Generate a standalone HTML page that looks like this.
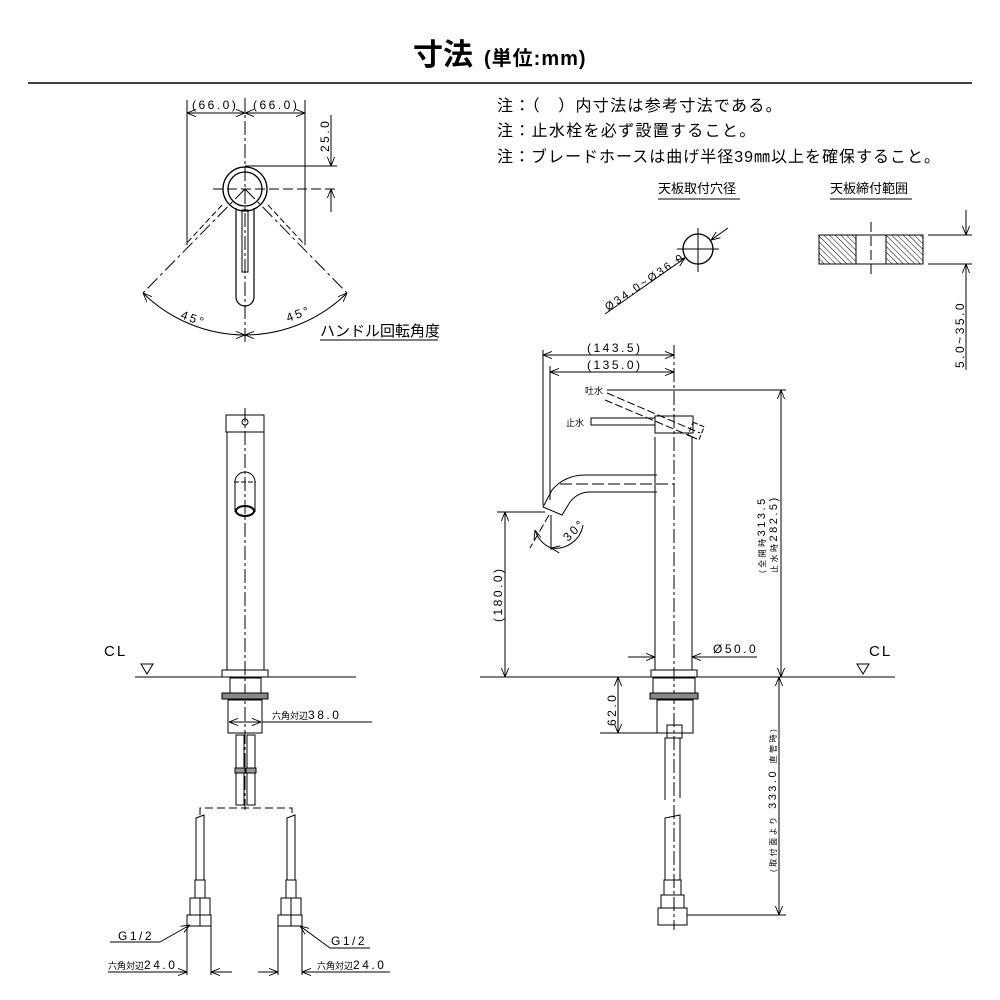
<!DOCTYPE html>
<html><head><meta charset="utf-8"><style>
html,body{margin:0;padding:0;background:#fff;}
svg{display:block;}
text{font-family:"Liberation Sans","Noto Sans CJK JP",sans-serif;fill:#000;}
.d{font-size:12px;letter-spacing:2.5px;}
.s{font-size:9px;letter-spacing:0;}
.n{font-size:16px;letter-spacing:1.3px;}
</style></head><body>
<svg width="1000" height="1000" viewBox="0 0 1000 1000" xmlns="http://www.w3.org/2000/svg">
<defs>
<marker id="a" viewBox="0 0 10 10" refX="10" refY="5" markerWidth="9" markerHeight="9" orient="auto-start-reverse" markerUnits="userSpaceOnUse"><path d="M0,1 L10,5 L0,9" fill="none" stroke="#000" stroke-width="1"/></marker>
<pattern id="h" width="4" height="4" patternUnits="userSpaceOnUse" patternTransform="rotate(-45)"><line x1="0" y1="0" x2="0" y2="4" stroke="#000" stroke-width="1"/></pattern>
</defs>
<g stroke="#000" fill="none" stroke-width="1">
<line x1="28" y1="83" x2="972" y2="83" stroke-width="1.5"/>
<!-- TOP VIEW -->
<line x1="245" y1="98" x2="245" y2="345" stroke-dasharray="14,3,3,3"/>
<line x1="187" y1="100" x2="187" y2="245"/><line x1="305" y1="100" x2="305" y2="245"/>
<line x1="187" y1="113" x2="245" y2="113" marker-start="url(#a)" marker-end="url(#a)"/>
<line x1="245" y1="113" x2="305" y2="113" marker-start="url(#a)" marker-end="url(#a)"/>
<line x1="213" y1="189" x2="337" y2="189" stroke-dasharray="10,4"/>
<line x1="245" y1="166" x2="337" y2="166"/>
<line x1="331" y1="115" x2="331" y2="166" marker-end="url(#a)"/>
<line x1="331" y1="189" x2="331" y2="212" marker-start="url(#a)"/>
<circle cx="245" cy="189" r="22" stroke-width="1.3"/><circle cx="245" cy="189" r="17" stroke-width="1.3"/>
<path d="M236,208 L236,297 A9,9 0 0 0 254,297 L254,208" stroke-width="1.2"/>
<rect x="242" y="210" width="6" height="62"/>
<line x1="245" y1="189" x2="143" y2="293" stroke-dasharray="14,4,3,4"/>
<line x1="245" y1="189" x2="347" y2="293" stroke-dasharray="14,4,3,4"/>
<line x1="222" y1="205" x2="185" y2="245" stroke-dasharray="6,3"/>
<line x1="268" y1="205" x2="305" y2="245" stroke-dasharray="6,3"/>
<path d="M143,293 A146,146 0 0 0 245,335" marker-start="url(#a)" marker-end="url(#a)"/>
<path d="M245,335 A146,146 0 0 0 347,293" marker-start="url(#a)" marker-end="url(#a)"/>
<line x1="320" y1="340" x2="438" y2="340"/>
<line x1="658" y1="199" x2="740" y2="199" stroke-width="1.5" stroke="#555"/>
<line x1="830" y1="199" x2="912" y2="199" stroke-width="1.5" stroke="#555"/>
<circle cx="698" cy="249" r="15" stroke-width="1.3"/>
<line x1="677" y1="249" x2="719" y2="249"/><line x1="698" y1="228" x2="698" y2="272"/>
<line x1="605" y1="314" x2="685" y2="258" marker-end="url(#a)"/>
<line x1="728" y1="228" x2="711" y2="240" marker-end="url(#a)"/>
<rect x="819" y="235" width="37" height="29" fill="url(#h)"/>
<rect x="886" y="235" width="37" height="29" fill="url(#h)"/>
<line x1="819" y1="235" x2="923" y2="235"/><line x1="819" y1="264" x2="923" y2="264"/>
<line x1="871" y1="222" x2="871" y2="278" stroke-dasharray="10,4"/>
<line x1="928" y1="235" x2="972" y2="235"/><line x1="928" y1="264" x2="972" y2="264"/>
<line x1="966" y1="210" x2="966" y2="235" marker-end="url(#a)"/>
<line x1="966" y1="370" x2="966" y2="264" marker-end="url(#a)"/>
<!-- FRONT VIEW -->
<line x1="245" y1="408" x2="245" y2="810" stroke-dasharray="14,3,3,3"/>
<rect x="226" y="415" width="38" height="17"/><circle cx="245" cy="422" r="3"/>
<line x1="227" y1="432" x2="227" y2="670"/><line x1="264" y1="432" x2="264" y2="670"/>
<path d="M235,512 L235,482 A10,10 0 0 1 255,482 L255,512"/>
<line x1="234" y1="482" x2="256" y2="482" stroke-dasharray="5,2"/>
<ellipse cx="245" cy="511" rx="9" ry="5" stroke-width="2"/>
<rect x="222" y="670" width="46" height="7"/>
<line x1="135" y1="677" x2="356" y2="677"/>
<path d="M141,664 L153,664 L147,674 Z"/>
<rect x="230" y="678" width="31" height="15"/>
<rect x="222" y="693" width="46" height="6" fill="#888"/>
<rect x="228" y="700" width="34" height="33"/>
<line x1="229" y1="722" x2="261" y2="722" marker-start="url(#a)" marker-end="url(#a)"/>
<line x1="262" y1="722" x2="372" y2="722"/>
<rect x="236" y="735" width="8" height="70"/><rect x="247" y="735" width="8" height="70"/>
<rect x="235" y="768" width="10" height="5" fill="#999"/><rect x="246" y="768" width="10" height="5" fill="#999"/>
<path d="M200,815 L200,808 L292,808 L292,815" stroke-dasharray="8,4"/>
<path d="M196,880 L196,818 L204,815 L204,880"/><path d="M287,880 L287,818 L295,815 L295,880"/>
<rect x="195" y="880" width="10" height="18"/><rect x="286" y="880" width="10" height="18"/>
<rect x="190" y="898" width="20" height="17"/><rect x="187" y="915" width="24" height="11"/>
<rect x="281" y="898" width="20" height="17"/><rect x="278" y="915" width="24" height="11"/>
<line x1="200" y1="898" x2="200" y2="926"/><line x1="291" y1="898" x2="291" y2="926"/>
<line x1="187" y1="926" x2="187" y2="975"/><line x1="211" y1="926" x2="211" y2="975"/>
<line x1="278" y1="926" x2="278" y2="975"/><line x1="302" y1="926" x2="302" y2="975"/>
<path d="M160,942 L110,942" /><line x1="160" y1="942" x2="190" y2="925" marker-end="url(#a)"/>
<line x1="330" y1="948" x2="370" y2="948"/><line x1="330" y1="948" x2="300" y2="926" marker-end="url(#a)"/>
<line x1="108" y1="972" x2="187" y2="972" marker-end="url(#a)"/>
<line x1="232" y1="972" x2="211" y2="972" marker-end="url(#a)"/>
<line x1="258" y1="972" x2="278" y2="972" marker-end="url(#a)"/>
<line x1="390" y1="972" x2="302" y2="972" marker-end="url(#a)"/>
<!-- SIDE VIEW -->
<line x1="674" y1="345" x2="674" y2="930" stroke-dasharray="14,3,3,3"/>
<rect x="655" y="416" width="38" height="17"/>
<line x1="655" y1="437" x2="655" y2="670"/><line x1="692" y1="437" x2="692" y2="670"/>
<line x1="655" y1="433" x2="692" y2="433"/>
<rect x="591" y="418" width="64" height="7"/>
<path d="M607,393 L700,433 M605,400 L695,438" stroke-dasharray="8,3"/>
<rect x="690" y="424" width="12" height="14" transform="rotate(22 696 431)" stroke-dasharray="5,2"/>
<path d="M657,475 L585,475 Q565,475 552,490 L543,507 L562,515 L570,502 Q578,492 590,492 L657,492"/>
<line x1="560" y1="484" x2="674" y2="484" stroke-dasharray="12,4"/>
<line x1="543" y1="350" x2="543" y2="505"/><line x1="550" y1="366" x2="550" y2="500"/>
<line x1="543" y1="355" x2="674" y2="355" marker-start="url(#a)" marker-end="url(#a)"/>
<line x1="550" y1="372" x2="674" y2="372" marker-start="url(#a)" marker-end="url(#a)"/>
<line x1="607" y1="390" x2="786" y2="390"/>
<line x1="781" y1="390" x2="781" y2="677" marker-start="url(#a)" marker-end="url(#a)"/>
<line x1="497" y1="512" x2="545" y2="512"/>
<line x1="505" y1="512" x2="505" y2="677" marker-start="url(#a)" marker-end="url(#a)"/>
<line x1="549" y1="515" x2="530" y2="548" stroke-dasharray="8,3"/>
<line x1="551" y1="515" x2="551" y2="550"/>
<path d="M535,530 A28,28 0 0 0 551,548" marker-start="url(#a)"/>
<path d="M551,548 A28,28 0 0 0 583,525" marker-start="url(#a)"/>
<line x1="628" y1="657" x2="655" y2="657" marker-end="url(#a)"/>
<line x1="757" y1="657" x2="692" y2="657" marker-end="url(#a)"/>
<rect x="651" y="670" width="46" height="7"/>
<line x1="480" y1="677" x2="895" y2="677"/>
<path d="M857,664 L869,664 L863,674 Z"/>
<rect x="653" y="678" width="42" height="15"/>
<rect x="650" y="693" width="48" height="6" fill="#888"/>
<rect x="657" y="700" width="36" height="33"/>
<rect x="667" y="725" width="15" height="13"/>
<path d="M665,800 L665,738 L680,738 L680,798"/>
<path d="M665,880 L665,818 L680,815 L680,880"/>
<rect x="664" y="880" width="17" height="15"/>
<rect x="661" y="895" width="23" height="13"/><rect x="658" y="908" width="29" height="17"/>
<line x1="600" y1="733" x2="657" y2="733"/>
<line x1="618" y1="677" x2="618" y2="733" marker-start="url(#a)" marker-end="url(#a)"/>
<line x1="687" y1="915" x2="786" y2="915"/>
<line x1="779" y1="677" x2="779" y2="915" marker-start="url(#a)" marker-end="url(#a)"/>
<line x1="713" y1="657" x2="757" y2="657"/>
</g>
<!-- TEXT -->
<text x="413" y="65" style="font-size:30px;font-weight:bold">寸法</text>
<text x="484" y="65" style="font-size:20px;font-weight:bold;letter-spacing:1px">(単位:mm)</text>
<text class="d" x="192" y="109">(66.0)</text>
<text class="d" x="253" y="109">(66.0)</text>
<text class="d" transform="translate(329,152) rotate(-90)">25.0</text>
<text class="d" transform="translate(180,318) rotate(20)">45°</text>
<text class="d" transform="translate(288,322) rotate(-20)">45°</text>
<text x="320" y="336" style="font-size:15px">ハンドル回転角度</text>
<text class="n" x="497" y="111">注：（　）内寸法は参考寸法である。</text>
<text class="n" x="497" y="136">注：止水栓を必ず設置すること。</text>
<text class="n" x="497" y="162" style="letter-spacing:1px">注：ブレードホースは曲げ半径39㎜以上を確保すること。</text>
<text x="658" y="193" style="font-size:13px">天板取付穴径</text>
<text x="830" y="193" style="font-size:13px">天板締付範囲</text>
<text class="d" style="font-size:11px" transform="translate(608,311) rotate(-34)">Ø34.0~Ø36.0</text>
<text class="d" transform="translate(964,368) rotate(-90)">5.0~35.0</text>
<text x="104" y="656" style="font-size:15px;letter-spacing:2px">CL</text>
<text x="869" y="656" style="font-size:15px;letter-spacing:2px">CL</text>
<text class="d" x="272" y="719"><tspan class="s">六角対辺</tspan>38.0</text>
<text class="d" x="118" y="940">G1/2</text>
<text class="d" x="331" y="945">G1/2</text>
<text class="d" x="108" y="969"><tspan class="s">六角対辺</tspan>24.0</text>
<text class="d" x="317" y="969"><tspan class="s">六角対辺</tspan>24.0</text>
<text class="d" x="587" y="352">(143.5)</text>
<text class="d" x="587" y="369">(135.0)</text>
<text class="s" x="585" y="394">吐水</text>
<text class="s" x="566" y="426">止水</text>
<text class="d" transform="translate(568,542) rotate(-45)">30°</text>
<text class="d" transform="translate(502,622) rotate(-90)">(180.0)</text>
<text class="d" x="713" y="653">Ø50.0</text>
<text class="d" style="font-size:11px" transform="translate(765,573) rotate(-90)"><tspan style="font-size:8px">(全開時</tspan>313.5</text>
<text class="d" style="font-size:11px" transform="translate(777,573) rotate(-90)"><tspan style="font-size:8px">止水時</tspan>282.5)</text>
<text class="d" transform="translate(616,726) rotate(-90)">62.0</text>
<text class="d" style="font-size:11px" transform="translate(776,872) rotate(-90)"><tspan style="font-size:8px">(取付面より</tspan> 333.0 <tspan style="font-size:8px">直管時)</tspan></text>
</svg>
</body></html>
